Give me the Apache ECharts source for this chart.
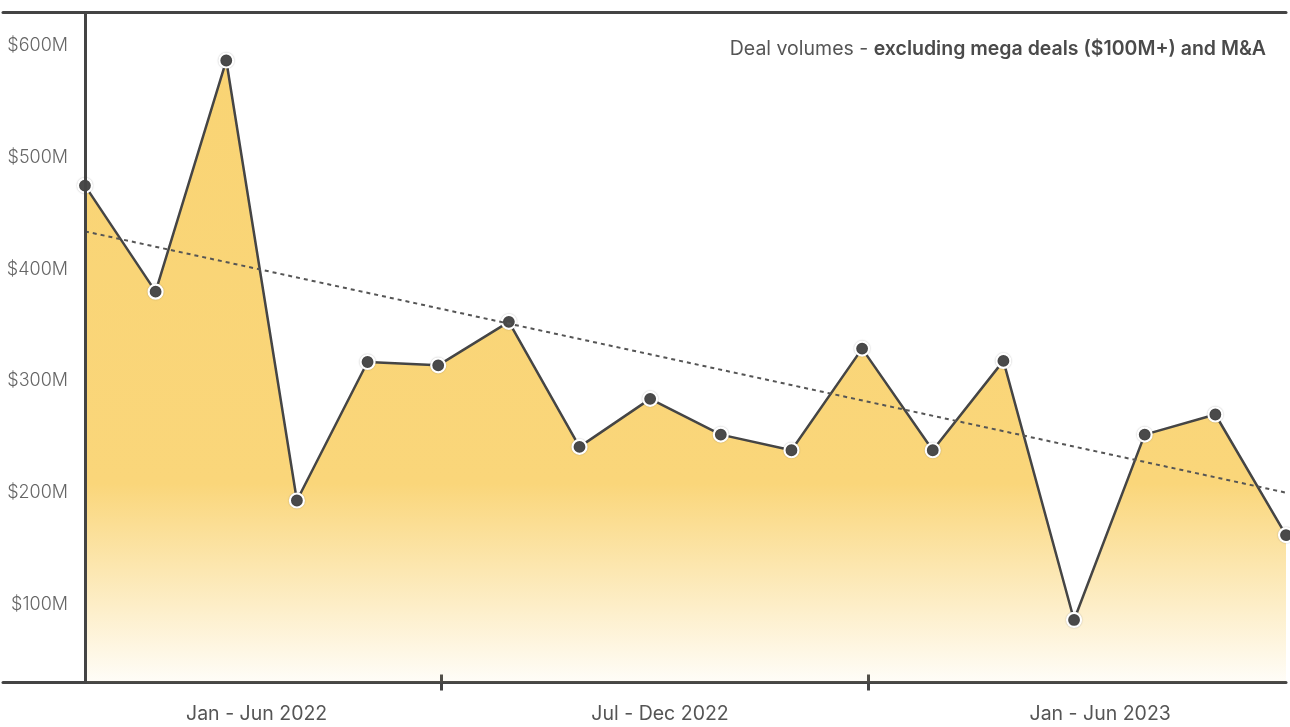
<!DOCTYPE html>
<html>
<head>
<meta charset="utf-8">
<script src="https://cdn.jsdelivr.net/npm/echarts@6/dist/echarts.min.js"></script>
<style>
html,body{margin:0;padding:0;background:#fff;}
#chart{width:1290px;height:727px;}
</style>
</head>
<body>
<div id="chart"></div>
<script>
// ---- data ----
const months = ['Jan 2022','Feb 2022','Mar 2022','Apr 2022','May 2022','Jun 2022','Jul 2022','Aug 2022','Sep 2022','Oct 2022','Nov 2022','Dec 2022','Jan 2023','Feb 2023','Mar 2023','Apr 2023','May 2023','Jun 2023'];
const dealVolume = [475, 380, 587, 193, 317, 314, 353, 241, 284, 252, 238, 329, 238, 318, 86, 252, 270, 162];
const trendEnds = [434, 200];
const periodLabels = ['Jan - Jun 2022', 'Jul - Dec 2022', 'Jan - Jun 2023'];
const yTicks = [100, 200, 300, 400, 500, 600];
const titlePlain = 'Deal volumes - ';
const titleBold = 'excluding mega deals ($100M+) and M&A';

// ---- layout helpers (positions in month-index units) ----
const periodLabelPos = [2.43, 8.14, 14.37];
const periodTickPos = [5.04, 11.09];

const lineData = dealVolume.map((v, i) => [i, v]);
const trendData = [[0, trendEnds[0]], [months.length - 1, trendEnds[1]]];

const chart = echarts.init(document.getElementById('chart'));
const axisColor = '#444';
chart.setOption({
  animation: false,
  backgroundColor: '#fff',
  title: {
    text: '{a|' + titlePlain + '}{b|' + titleBold + '}',
    right: 19,
    top: 34,
    textStyle: {
      rich: {
        a: {fontFamily: 'Inter', fontSize: 19.5, fontWeight: 400, color: '#555', letterSpacing: -0.2},
        b: {fontFamily: 'Inter', fontSize: 19.5, fontWeight: 600, color: '#4a4a4a', letterSpacing: -0.2}
      }
    }
  },
  grid: {left: 3, right: 4, top: 12.5, bottom: 44.5, containLabel: false, outerBoundsMode: 'none'},
  xAxis: [
    {
      type: 'value', min: -1.16, max: months.length - 1,
      position: 'bottom',
      axisLine: {onZero: false, lineStyle: {color: axisColor, width: 3}},
      axisTick: {show: true, length: 8, customValues: periodTickPos, lineStyle: {color: axisColor, width: 3}},
      axisLabel: {
        customValues: periodLabelPos,
        formatter: function (v) {
          const i = periodLabelPos.findIndex(p => Math.abs(p - v) < 1e-6);
          return i >= 0 ? periodLabels[i] : '';
        },
        fontFamily: 'Inter', fontSize: 19.5, color: '#555', margin: 22
      },
      splitLine: {show: false}
    },
    {
      type: 'value', min: -1.16, max: months.length - 1,
      position: 'bottom',
      axisLine: {show: false},
      axisTick: {show: true, inside: true, length: 8, customValues: periodTickPos, lineStyle: {color: axisColor, width: 3}},
      axisLabel: {show: false},
      splitLine: {show: false}
    },
    {
      type: 'value', min: -1.16, max: months.length - 1,
      position: 'top',
      axisLine: {show: true, onZero: false, lineStyle: {color: axisColor, width: 3}},
      axisTick: {show: false},
      axisLabel: {show: false},
      splitLine: {show: false}
    }
  ],
  yAxis: {
    type: 'value', min: 30, max: 630,
    position: 'left',
    offset: -82,
    z: 10,
    axisLine: {show: true, onZero: false, lineStyle: {color: axisColor, width: 3}},
    axisTick: {show: false},
    splitLine: {show: false},
    axisLabel: {
      customValues: yTicks,
      formatter: v => '$' + v + 'M',
      fontFamily: 'Inter', fontSize: 18, fontWeight: 300, color: '#666', margin: 17
    }
  },
  series: [
    {
      type: 'line',
      data: lineData,
      xAxisIndex: 0,
      symbol: 'circle',
      symbolSize: 14,
      z: 5,
      lineStyle: {color: '#454545', width: 2.5},
      itemStyle: {color: '#4a4a4a', borderColor: '#fff', borderWidth: 2.2, shadowColor: 'rgba(0,0,0,0.25)', shadowBlur: 1.5},
      areaStyle: {
        origin: 'start',
        opacity: 1,
        color: new echarts.graphic.LinearGradient(0, 0, 0, 1, [
          {offset: 0, color: 'rgba(249,212,116,1)'},
          {offset: 0.68, color: 'rgba(250,214,122,1)'},
          {offset: 1, color: 'rgba(250,214,122,0.05)'}
        ])
      }
    },
    {
      type: 'line',
      data: trendData,
      xAxisIndex: 0,
      symbol: 'none',
      z: 6,
      lineStyle: {color: '#555', width: 2, type: [4, 4]}
    }
  ]
});
</script>
</body>
</html>
